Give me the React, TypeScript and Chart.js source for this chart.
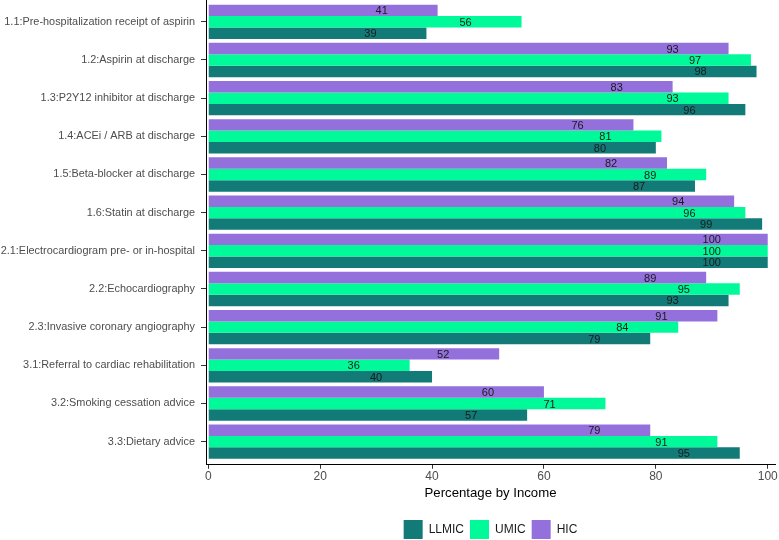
import React, { useEffect, useRef } from "react";
import { Chart, registerables } from "chart.js";

Chart.register(...registerables);

const categories = [
  "1.1:Pre-hospitalization receipt of aspirin",
  "1.2:Aspirin at discharge",
  "1.3:P2Y12 inhibitor at discharge",
  "1.4:ACEi / ARB at discharge",
  "1.5:Beta-blocker at discharge",
  "1.6:Statin at discharge",
  "2.1:Electrocardiogram pre- or in-hospital",
  "2.2:Echocardiography",
  "2.3:Invasive coronary angiography",
  "3.1:Referral to cardiac rehabilitation",
  "3.2:Smoking cessation advice",
  "3.3:Dietary advice",
];
const llmic = [39, 98, 96, 80, 87, 99, 100, 93, 79, 40, 57, 95];
const umic = [56, 97, 93, 81, 89, 96, 100, 95, 84, 36, 71, 91];
const hic = [41, 93, 83, 76, 82, 94, 100, 89, 91, 52, 60, 79];
const xTicks = [0, 20, 40, 60, 80, 100];

const FONT = "'Liberation Sans', Arial, sans-serif";

const labelPlugin = {
  id: "barLabels",
  afterLayout(chart: any) {
    const lg = chart.legend;
    const ca = chart.chartArea;
    if (lg && ca) {
      const shift = (ca.left + ca.right) / 2 - (lg.left + lg.right) / 2;
      lg.left += shift;
      lg.right += shift;
      lg.top += 9;
      lg.bottom += 9;
    }
  },
  afterDatasetsDraw(chart: any) {
    const ctx = chart.ctx;
    const xs = chart.scales.x;
    ctx.save();
    ctx.font = `11px ${FONT}`;
    ctx.fillStyle = "#1a1a1a";
    ctx.textAlign = "center";
    ctx.textBaseline = "middle";
    chart.data.datasets.forEach((ds: any, di: number) => {
      const meta = chart.getDatasetMeta(di);
      meta.data.forEach((el: any, i: number) => {
        const v = ds.data[i];
        ctx.fillText(String(v), xs.getPixelForValue(v - 10), el.y + 1);
      });
    });
    ctx.restore();
  },
};

export default function App() {
  const ref = useRef<HTMLCanvasElement>(null);
  useEffect(() => {
    const chart = new Chart(ref.current!, {
      type: "bar",
      data: {
        labels: categories,
        datasets: [
          { label: "HIC", data: hic, backgroundColor: "#9370DB" },
          { label: "UMIC", data: umic, backgroundColor: "#00FA9A" },
          { label: "LLMIC", data: llmic, backgroundColor: "#127B78" },
        ],
      },
      options: {
        indexAxis: "y",
        animation: false,
        responsive: false,
        maintainAspectRatio: false,
        datasets: { bar: { categoryPercentage: 0.9, barPercentage: 1 } },
        layout: { padding: { top: 0, right: 4, left: 0, bottom: 0 } },
        scales: {
          x: {
            type: "linear",
            min: -0.4,
            max: 101.3,
            afterBuildTicks: (s: any) => {
              s.ticks = xTicks.map((v) => ({ value: v }));
            },
            afterFit: (s: any) => {
              s.paddingLeft = 0;
              s.paddingRight = 0;
            },
            grid: { display: true, drawOnChartArea: false, drawTicks: true, tickLength: 4, color: "#333" },
            border: { display: true, color: "#000", width: 1 },
            ticks: { color: "#4d4d4d", font: { family: FONT, size: 12 }, padding: 1 },
            title: { display: true, text: "Percentage by Income", color: "#000", font: { family: FONT, size: 13.2 }, padding: { top: 0, bottom: 4 } },
          },
          y: {
            type: "category",
            afterFit: (s: any) => {
              s.width = 206;
              s.paddingTop = 0;
              s.paddingBottom = 0;
            },
            afterUpdate: (s: any) => {
              s._startValue = -0.572;
              s._valueRange = 12.178;
            },
            grid: { display: true, drawOnChartArea: false, drawTicks: true, tickLength: 5, color: "#333", offset: false },
            border: { display: true, color: "#000", width: 1 },
            ticks: { color: "#4d4d4d", font: { family: FONT, size: 10.9 }, padding: 6, autoSkip: false },
          },
        },
        plugins: {
          legend: {
            position: "bottom",
            reverse: true,
            labels: { boxWidth: 19, boxHeight: 19, color: "#1a1a1a", font: { family: FONT, size: 12 }, padding: 6 },
          },
          tooltip: { enabled: false },
        },
      },
      plugins: [labelPlugin],
    });
    return () => chart.destroy();
  }, []);
  return (
    <div style={{ position: "fixed", left: 0, top: 0, width: 779, height: 540, background: "#fff" }}>
      <canvas ref={ref} width={779} height={540} />
    </div>
  );
}
